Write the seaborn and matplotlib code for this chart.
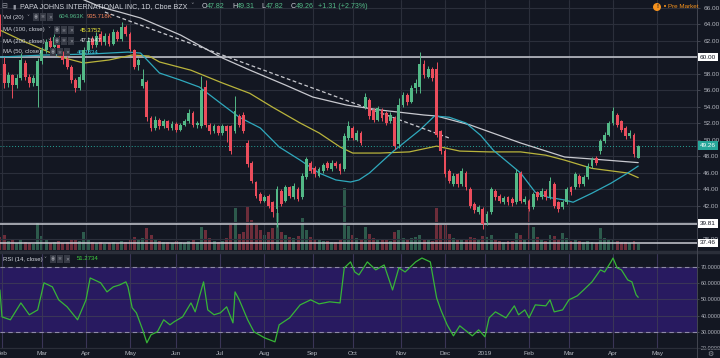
import matplotlib
matplotlib.use("Agg")
import matplotlib.pyplot as plt
import matplotlib.transforms as mtransforms
from matplotlib.lines import Line2D
import seaborn as sns

# ---------------- data ----------------
month_labels = ["Feb", "Mar", "Apr", "May", "Jun", "Jul", "Aug", "Sep", "Oct",
                "Nov", "Dec", "2019", "Feb", "Mar", "Apr", "May"]
month_idx = [0, 19, 40, 61, 83, 104, 125, 148, 167, 190, 211, 230, 251, 270, 291, 312]

# one candle per two trading days (trading-day index)
candle_day = list(range(-1, 305, 2))

o = [64.8, 59.2, 56.8, 57.8, 56.6, 57.5, 59.3, 57.6, 56.8, 56.5,
     59.5, 60.8, 62.0, 61.2, 62.2, 60.4, 59.8, 58.8, 57.2, 56.2,
     57.2, 60.8, 62.2, 61.4, 62.8, 61.8, 62.6, 61.6, 63.0, 62.2,
     63.6, 62.8, 60.8, 59.0, 56.5, 57.0, 52.6, 51.4, 52.4, 51.6,
     52.2, 51.4, 51.9, 51.2, 51.8, 52.2, 53.2, 51.7, 51.6, 56.4,
     51.8, 51.0, 51.6, 50.8, 51.6, 51.6, 51.0, 52.8, 53.0, 49.6,
     47.2, 44.8, 43.4, 42.6, 43.2, 42.4, 41.6, 43.8, 42.6, 44.2,
     43.0, 44.0, 43.0, 45.4, 47.2, 46.6, 45.6, 46.2, 47.2, 46.4,
     47.2, 47.0, 46.4, 50.2, 51.4, 50.0, 50.8, 54.0, 54.8, 53.6,
     52.4, 53.6, 53.2, 52.2, 52.6, 49.4, 54.2, 55.4, 54.6, 56.2,
     56.4, 59.2, 57.6, 58.6, 58.6, 51.0, 48.6, 46.2, 44.6, 45.8,
     44.6, 46.0, 44.0, 42.2, 41.2, 41.6, 40.0, 41.2, 43.8, 43.2,
     42.4, 43.0, 42.8, 42.4, 46.0, 42.4, 42.6, 41.8, 43.6, 43.0,
     43.8, 43.0, 44.6, 42.4, 41.8, 42.4, 44.2, 44.2, 45.6, 44.6,
     45.4, 46.8, 47.8, 48.6, 49.8, 50.6, 52.0, 53.0, 52.2, 51.4,
     50.4, 50.6, 47.82]
c = [63.0, 56.8, 57.8, 56.6, 57.5, 59.6, 57.6, 56.8, 57.4, 59.5,
     60.8, 61.8, 61.2, 62.4, 60.4, 59.6, 58.8, 57.2, 56.2, 57.6,
     60.8, 62.0, 61.4, 62.6, 61.8, 62.6, 61.6, 63.0, 62.2, 63.6,
     62.8, 61.0, 58.8, 59.6, 57.3, 52.7, 51.4, 52.4, 51.6, 52.2,
     51.4, 51.9, 51.2, 51.8, 52.2, 53.2, 51.8, 52.0, 56.0, 51.8,
     51.0, 51.6, 50.8, 51.6, 51.0, 48.6, 53.5, 51.8, 51.0, 47.0,
     45.0, 43.2, 42.6, 43.0, 42.0, 41.2, 44.0, 42.2, 44.2, 43.2,
     44.4, 42.8, 45.6, 47.6, 46.2, 45.8, 46.4, 46.9, 46.6, 47.2,
     46.8, 46.2, 50.4, 51.6, 50.2, 50.8, 49.6, 55.2, 52.8, 52.4,
     53.8, 52.6, 52.0, 53.0, 49.2, 54.2, 55.4, 54.6, 56.2, 56.8,
     59.2, 57.8, 58.6, 57.4, 50.6, 48.6, 45.8, 45.0, 45.6, 44.6,
     46.2, 44.2, 42.0, 41.4, 41.8, 39.8, 41.0, 44.0, 43.0, 42.6,
     42.9, 42.4, 42.3, 46.0, 42.6, 42.8, 41.6, 43.4, 43.0, 43.8,
     43.0, 45.0, 42.0, 41.6, 42.4, 44.0, 43.6, 45.8, 44.6, 45.4,
     46.8, 47.6, 47.2, 49.8, 50.6, 52.0, 53.4, 51.8, 51.2, 50.4,
     50.8, 48.2, 49.26]
h = [65.2, 60.0, 58.2, 58.0, 57.9, 60.5, 59.6, 57.9, 57.8, 59.9,
     61.2, 62.2, 62.4, 62.8, 62.5, 60.7, 60.1, 59.0, 57.5, 57.9,
     61.2, 62.4, 62.5, 63.0, 63.1, 62.9, 62.9, 63.4, 63.3, 64.2,
     63.9, 63.0, 61.0, 59.9, 58.5, 57.2, 52.9, 52.8, 52.6, 52.5,
     52.4, 52.2, 52.1, 52.0, 52.5, 53.7, 53.4, 52.3, 57.7, 57.2,
     52.0, 51.9, 51.8, 51.9, 51.8, 51.8, 55.3, 53.1, 53.3, 49.9,
     47.4, 45.0, 43.7, 43.3, 43.4, 42.6, 44.4, 44.0, 44.5, 44.4,
     44.7, 44.2, 45.9, 47.9, 47.4, 46.8, 46.7, 47.2, 47.4, 47.5,
     47.4, 47.2, 50.8, 52.2, 51.6, 51.1, 51.0, 55.6, 55.0, 53.8,
     54.1, 53.8, 53.4, 53.3, 52.8, 55.0, 55.8, 55.6, 56.6, 57.3,
     60.6, 59.6, 58.9, 58.8, 59.4, 51.2, 48.8, 46.4, 45.9, 46.0,
     46.5, 46.2, 44.2, 42.4, 42.1, 41.8, 41.3, 44.3, 44.0, 43.4,
     43.2, 43.2, 43.0, 46.4, 46.2, 43.1, 42.8, 43.7, 43.8, 44.1,
     44.0, 45.4, 44.8, 42.6, 42.7, 44.3, 44.4, 46.1, 45.8, 45.7,
     47.1, 47.9, 48.0, 50.1, 50.9, 52.3, 54.0, 53.2, 52.4, 51.6,
     51.1, 50.8, 49.31]
l = [62.6, 56.2, 56.4, 55.0, 56.2, 57.2, 57.2, 56.4, 56.5, 54.0,
     59.2, 60.5, 60.9, 61.0, 60.1, 59.2, 58.5, 56.9, 55.8, 56.0,
     57.0, 60.5, 61.1, 61.2, 61.5, 61.5, 61.3, 61.4, 61.9, 62.0,
     62.5, 60.7, 58.5, 58.4, 56.2, 52.2, 51.0, 51.2, 51.3, 51.4,
     51.1, 51.2, 50.9, 51.0, 51.6, 52.0, 51.5, 51.4, 51.4, 51.5,
     50.7, 50.8, 50.5, 50.6, 49.7, 48.3, 50.8, 51.5, 50.8, 46.7,
     44.7, 42.9, 42.3, 42.4, 41.7, 40.6, 39.4, 41.9, 42.4, 42.9,
     42.8, 42.5, 42.8, 45.2, 45.9, 45.5, 45.4, 46.0, 46.3, 46.2,
     46.5, 45.8, 46.2, 50.0, 49.9, 49.8, 49.3, 53.7, 52.5, 52.1,
     52.2, 52.3, 51.7, 52.0, 48.8, 49.0, 54.0, 54.2, 54.4, 55.6,
     55.6, 57.5, 57.4, 57.1, 50.3, 48.2, 45.5, 44.7, 44.4, 44.3,
     44.4, 43.9, 41.7, 41.1, 41.0, 39.2, 39.6, 41.0, 42.7, 42.3,
     42.2, 42.1, 42.0, 42.2, 42.3, 42.2, 41.3, 41.6, 42.7, 42.8,
     42.7, 42.8, 41.7, 41.2, 41.6, 42.2, 43.3, 44.0, 44.3, 44.4,
     45.2, 46.6, 46.9, 48.2, 49.6, 50.4, 51.8, 51.5, 50.9, 50.1,
     50.2, 47.9, 47.82]
volume_m = [1.3, 1.5, 0.9, 1.0, 0.7, 1.0, 0.8, 0.7, 0.6, 2.8,
            1.4, 1.0, 0.7, 0.8, 0.9, 0.7, 0.8, 1.0, 1.1, 0.9,
            1.8, 1.1, 0.8, 0.7, 0.8, 0.6, 0.7, 0.8, 0.7, 0.9,
            0.8, 1.0, 1.3, 1.0, 1.2, 2.2, 1.5, 1.0, 0.9, 0.8,
            0.8, 0.7, 0.9, 0.8, 0.7, 0.9, 1.0, 0.8, 2.3, 2.0,
            1.2, 0.9, 0.8, 0.9, 1.2, 2.5, 4.2, 1.6, 1.8, 4.3,
            3.0, 2.5, 2.0, 1.5, 1.8, 2.2, 3.7, 1.8, 1.5, 1.3,
            1.2, 1.4, 3.2, 2.0, 1.3, 1.1, 1.0, 0.9, 0.9, 0.8,
            0.8, 1.0, 6.2, 2.4, 1.5, 1.2, 1.0, 2.3, 1.6, 1.2,
            1.0, 1.1, 1.0, 0.9, 1.8, 2.0, 1.2, 1.0, 1.2, 1.3,
            1.5, 1.1, 1.0, 0.9, 4.2, 2.5, 2.5, 1.6, 1.2, 1.0,
            1.0, 1.1, 1.3, 1.2, 1.0, 1.4, 1.3, 1.5, 1.1, 0.9,
            0.8, 0.9, 0.9, 1.7, 1.5, 1.1, 5.0, 2.3, 1.3, 1.0,
            0.9, 1.5, 1.4, 1.0, 1.7, 1.2, 0.9, 1.1, 0.9, 0.8,
            0.9, 0.8, 0.7, 2.2, 1.2, 1.0, 1.1, 0.9, 0.8, 0.8,
            0.7, 0.9, 0.6]

ma50_idx = [-1, 20, 42, 60, 66, 75, 85, 94, 104, 113, 123, 132, 142, 151, 159, 166,
            170, 175, 186, 199, 206, 213, 221, 228, 234, 247, 254, 260, 268, 272,
            281, 290, 298, 303]
ma50_val = [60.0, 60.24, 60.36, 60.6, 60.48, 58.06, 57.2, 56.36, 54.42, 52.7, 51.4,
            49.1, 47.5, 45.94, 45.1, 44.85, 45.1, 45.94, 48.5, 51.15, 52.85, 52.7,
            52.0, 50.5, 48.7, 45.94, 43.6, 43.0, 42.67, 42.4, 43.5, 44.7, 45.94, 46.78]
ma100_idx = [-1, 9, 20, 28, 39, 51, 62, 70, 75, 90, 105, 118, 129, 142, 151, 161,
             167, 180, 194, 207, 218, 232, 247, 259, 268, 281, 298, 303]
ma100_val = [63.27, 62.06, 60.85, 60.0, 59.27, 59.64, 60.24, 60.12, 59.4, 58.4, 56.85,
             55.6, 53.9, 52.0, 50.8, 49.1, 48.36, 48.36, 48.5, 49.2, 48.6, 48.5, 48.5,
             48.1, 47.5, 46.5, 45.94, 45.38]
ma200_idx = [37, 47, 56, 66, 85, 105, 118, 135, 148, 164, 180, 201, 207, 223, 247,
             268, 281, 303]
ma200_val = [67.15, 66.06, 65.45, 64.73, 62.67, 59.88, 58.42, 56.6, 55.15, 54.18,
             53.58, 52.97, 52.85, 51.76, 49.58, 47.88, 47.64, 47.2]
trend_idx = [49, 213]
trend_val = [65.45, 50.18]

rsi_idx = [-1, 0, 4, 9, 13, 17, 20, 24, 27, 31, 36, 40, 42, 47, 50, 53, 56, 59, 60,
           62, 64, 67, 69, 71, 74, 77, 80, 82, 86, 90, 92, 96, 98, 101, 104, 107,
           110, 111, 113, 117, 120, 125, 130, 132, 137, 142, 147, 151, 156, 161,
           163, 166, 168, 170, 174, 178, 182, 186, 189, 192, 197, 200, 204, 207,
           209, 212, 215, 218, 221, 224, 227, 230, 232, 235, 240, 244, 246, 249,
           251, 254, 259, 261, 263, 267, 270, 274, 277, 281, 285, 287, 290, 291,
           293, 295, 298, 300, 302, 303]
rsi_val = [55.8, 39.2, 37.4, 47.8, 40.5, 43.5, 60.2, 57.7, 49.7, 45.4, 37.4, 49.7,
           63.2, 60.2, 54.6, 57.7, 58.9, 60.8, 57.7, 44.8, 41.7, 31.2, 23.2, 28.2,
           30.0, 37.4, 34.3, 36.2, 39.2, 47.8, 42.3, 60.8, 43.5, 40.5, 41.7, 45.4,
           35.5, 54.6, 49.7, 37.4, 30.0, 26.3, 23.8, 34.3, 38.6, 46.6, 49.7, 47.2,
           48.5, 47.8, 69.4, 73.1, 66.9, 65.1, 73.1, 68.2, 71.2, 55.8, 69.4, 66.9,
           73.1, 75.5, 73.1, 50.9, 43.5, 34.3, 27.5, 33.7, 30.6, 27.5, 31.2, 26.9,
           38.6, 42.3, 38.6, 46.0, 40.5, 43.5, 38.6, 46.6, 46.0, 49.7, 42.3, 43.5,
           49.7, 52.2, 55.8, 60.8, 68.2, 66.9, 73.1, 75.5, 69.4, 68.2, 62.0, 60.8,
           52.8, 51.27]

price_ticks = [38, 40, 42, 44, 46, 48, 50, 52, 54, 56, 58, 60, 62, 64, 66]
rsi_ticks = [20, 30, 40, 50, 60, 70]
level_lines = [60.00, 39.81, 37.46]
last_close = 49.26

# ---------------- style ----------------
sns.set_theme(style="dark")
plt.rcParams['font.family'] = ['Liberation Sans', 'DejaVu Sans']

BG = '#131722'
GRID = '#2b2f3b'
TXT = '#b2b5be'
UP = '#53b987'
DOWN = '#eb4d5c'

W, H = 720, 358
fig = plt.figure(figsize=(7.2, 3.58), dpi=100, facecolor=BG)


def fx(x):
    return x / W


def fy(y):
    return 1 - y / H


price_rect = [0, fy(250), fx(697), 250 / H]
ax_vol = fig.add_axes(price_rect)
ax = fig.add_axes(price_rect)
ax_rsi = fig.add_axes([0, fy(348), fx(697), 95 / H])

XL = (-0.95, 331.0)
for a in (ax_vol, ax, ax_rsi):
    a.set_xlim(*XL)
    for s in a.spines.values():
        s.set_visible(False)
    a.grid(False)

ax_vol.set_facecolor(BG)
ax_vol.set_zorder(0)
ax.set_zorder(1)
ax.patch.set_visible(False)
ax_vol.set_ylim(0, 25)
ax_vol.set_xticks([])
ax_vol.set_yticks([])

ax.set_ylim(36.61, 66.91)

# grid lines
for m in month_idx:
    ax.axvline(m, color=GRID, lw=0.8, zorder=0.5)
for p in price_ticks:
    ax.axhline(p, color=GRID, lw=0.8, zorder=0.5)

# volume
vcols = [UP if cc >= oo else DOWN for oo, cc in zip(o, c)]
ax_vol.bar(candle_day, volume_m, width=1.4, color=vcols, alpha=0.42, linewidth=0)

# level lines
for lv in level_lines:
    ax.axhline(lv, color='#c9cbd3', lw=1.1, zorder=1)
ax.axhline(last_close, color='#26a69a', lw=0.7, ls=(0, (1, 2)), zorder=1)

# moving averages and trend line (seaborn)
sns.lineplot(x=ma100_idx, y=ma100_val, ax=ax, color='#b9b43c', lw=0.9, zorder=2)
sns.lineplot(x=ma200_idx, y=ma200_val, ax=ax, color='#c8c9cf', lw=0.9, zorder=2)
sns.lineplot(x=ma50_idx, y=ma50_val, ax=ax, color='#2fa9bd', lw=0.9, zorder=2)
sns.lineplot(x=trend_idx, y=trend_val, ax=ax, color='#c8c9cf', lw=0.9,
             linestyle=(0, (3, 2)), zorder=2)

# candles
ccols = [UP if cc >= oo else DOWN for oo, cc in zip(o, c)]
ax.vlines(candle_day, l, h, colors=ccols, lw=0.7, zorder=3)
bodies = [cc - oo if abs(cc - oo) > 0.12 else 0.12 for oo, cc in zip(o, c)]
ax.bar(candle_day, bodies, bottom=o, width=1.35, color=ccols, linewidth=0, zorder=3)

# price axis (labels under the boxed levels are replaced by the boxes)
ax.yaxis.tick_right()
ax.set_yticks(price_ticks)
boxed = [round(v) for v in level_lines[:2]]
ax.set_yticklabels(["" if p in boxed else f"{p:.2f}" for p in price_ticks])
ax.tick_params(axis='y', colors='#4a4e59', labelcolor=TXT, labelsize=4.6,
               length=2.5, width=0.6, pad=2)
ax.set_xticks([])
ax.set_ylabel("")

trans = mtransforms.blended_transform_factory(ax.transAxes, ax.transData)
for lv in level_lines:
    ax.text(1.004, lv, f"{lv:.2f}", transform=trans, ha='left', va='center',
            fontsize=4.6, color='#131722', clip_on=False, zorder=20,
            bbox=dict(boxstyle='square,pad=0.3', fc='#ffffff', ec='none'))
ax.text(1.004, last_close, f"{last_close:.2f}", transform=trans, ha='left', va='center',
        fontsize=4.6, color='#ffffff', clip_on=False, zorder=20,
        bbox=dict(boxstyle='square,pad=0.3', fc='#26a69a', ec='none'))

# ---------------- RSI pane ----------------
ax_rsi.set_facecolor(BG)
ax_rsi.set_ylim(20.0, 78.6)
ax_rsi.axhspan(30, 70, color='#281a60', zorder=0.3, lw=0)
for m in month_idx:
    ax_rsi.axvline(m, color='#3a3557', lw=0.8, zorder=0.5)
for r in rsi_ticks:
    ax_rsi.axhline(r, color='#3a3557', lw=0.8, zorder=0.5)
for r in (70, 30):
    ax_rsi.axhline(r, color='#8f8aa8', lw=0.8, ls=(0, (4, 3)), zorder=1)
sns.lineplot(x=rsi_idx, y=rsi_val, ax=ax_rsi, color='#37b537', lw=0.9, zorder=3)
ax_rsi.yaxis.tick_right()
ax_rsi.set_yticks(rsi_ticks)
ax_rsi.set_yticklabels([f"{r:.4f}" for r in rsi_ticks])
ax_rsi.set_xticks(month_idx)
ax_rsi.set_xticklabels(month_labels)
ax_rsi.tick_params(axis='y', colors='#4a4e59', labelcolor=TXT, labelsize=3.9,
                   length=1.5, width=0.6, pad=1.0)
ax_rsi.tick_params(axis='x', colors=BG, labelcolor=TXT, labelsize=4.6, length=0, pad=2.5)
ax_rsi.set_ylabel("")

# separators
fig.add_artist(Line2D([0, 1], [fy(251.5), fy(251.5)], color='#2a2e39', lw=2.5))
fig.add_artist(Line2D([0, 1], [fy(348), fy(348)], color='#2a2e39', lw=0.8))
fig.add_artist(Line2D([fx(697), fx(697)], [0, 1], color='#434651', lw=0.7))

# ---------------- legend texts ----------------
FS = 4.3


def t(x, y, s, color='#d1d4dc', fs=FS, **kw):
    fig.text(fx(x), fy(y), s, color=color, fontsize=fs, va='center', ha='left', **kw)


def icons(x, y):
    for i, g in enumerate(["◉", "✲", "✕"]):
        fig.text(fx(x + i * 7), fy(y), g, color='#9598a1', fontsize=3.4,
                 va='center', ha='left', family=['DejaVu Sans'],
                 bbox=dict(boxstyle='square,pad=0.25', fc='#363a45', ec='none'))


TS = 5.1
t(1.5, 6.5, "⊟", color='#9598a1', fs=5, family=['DejaVu Sans'])
t(12, 6.5, "▮", color='#9598a1', fs=4.5, family=['DejaVu Sans'])
t(20, 6.5, "PAPA JOHNS INTERNATIONAL INC, 1D, Cboe BZX", fs=TS)
t(190, 6.5, "˅", color='#9598a1', fs=5, family=['DejaVu Sans'])
for x0, lab, val in [(202, "O", "47.82"), (232, "H", "49.31"),
                     (261, "L", "47.82"), (291, "C", "49.26")]:
    t(x0, 6.5, lab, fs=TS)
    t(x0 + 5, 6.5, val, color=UP, fs=TS)
t(318, 6.5, "+1.31 (+2.73%)", color=UP, fs=TS)

t(3, 17, "Vol (20)")
t(26, 17, "˅", color='#9598a1', family=['DejaVu Sans'])
icons(34, 17)
t(59, 17, "604.963K", color=UP)
t(87, 17, "935.718K", color='#f0835b')

for yy, lab, chev, ix, vx, val, col in [
        (30, "MA (100, close)", 47, 55, 80, "45.3752", '#f2ee3c'),
        (41, "MA (200, close)", 47, 55, 80, "47.2047", '#e8e9ec'),
        (52, "MA (50, close)", 43, 51, 77, "46.7834", '#3dcde3'),
        (259, "RSI (14, close)", 43, 51, 77, "51.2734", '#3fd13f')]:
    t(3, yy, lab)
    t(chev, yy, "˅", color='#9598a1', family=['DejaVu Sans'])
    icons(ix, yy)
    t(vx, yy, val, color=col)

# pre market badge
fig.text(fx(657), fy(7), "!", color='#131722', fontsize=4.3, va='center', ha='center',
         fontweight='bold',
         bbox=dict(boxstyle='circle,pad=0.25', fc='#f7931e', ec='none'))
t(663, 7, "•", color='#f7931e', fs=5, family=['DejaVu Sans'])
t(667.5, 7, "Pre Market", color='#f7931e', fs=4.5)

# bottom-right settings glyph
fig.text(fx(710), fy(354), "⚙", color='#9598a1', fontsize=5, va='center', ha='center',
         family=['DejaVu Sans'])

fig.savefig("out.png", dpi=100, facecolor=BG)
